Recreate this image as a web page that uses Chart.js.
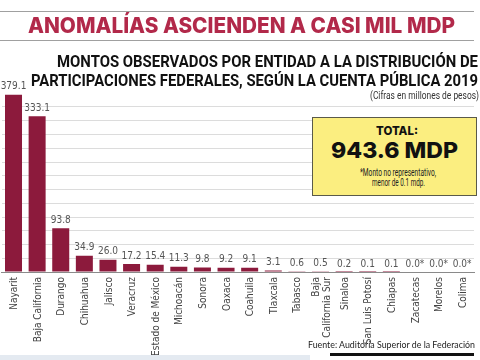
<!DOCTYPE html>
<html>
<head>
<meta charset="utf-8">
<script src="https://cdn.jsdelivr.net/npm/chart.js@4.4.1/dist/chart.umd.min.js"></script>
<style>
  html,body{margin:0;padding:0;background:#fff;}
  #wrap{position:relative;width:480px;height:360px;overflow:hidden;background:#fff;}
  #c{position:absolute;left:0;top:0;width:480px;height:360px;}
  .t{position:absolute;white-space:nowrap;line-height:1;transform-origin:0 50%;}
  .hl{position:absolute;height:1px;background:#a0a0a0;}
  #title{font-family:Inter,"Noto Sans",sans-serif;font-weight:800;font-size:21px;color:#b2294a;}
  .sub{font-family:Roboto,"Noto Sans",sans-serif;font-weight:700;font-size:17px;color:#111;}
  #unit{font-family:"Liberation Sans Narrow",Roboto,sans-serif;font-size:10px;color:#333;}
  #box{position:absolute;left:312px;top:117px;width:163px;height:77px;background:#fbee80;border:1px solid #5a5a4a;}
  #tot{font-family:Inter,"Noto Sans",sans-serif;font-weight:800;font-size:12px;color:#111;}
  #big{font-family:Inter,"Noto Sans",sans-serif;font-weight:800;font-size:22px;color:#111;}
  .note{font-family:"Liberation Sans Narrow",Roboto,sans-serif;font-size:10px;color:#222;}
  #src{font-family:Lato,Roboto,sans-serif;font-size:10px;color:#222;}
</style>
</head>
<body>
<div id="wrap">
  <canvas id="c" width="480" height="360"></canvas>
  <div class="hl" style="left:0;top:11px;width:474px;"></div>
  <div class="hl" style="left:0;top:40px;width:474px;"></div>
  <div class="t" id="title" data-l="28" data-w="427" data-cy="25.5">ANOMALÍAS ASCIENDEN A CASI MIL MDP</div>
  <div class="t sub" data-r="478" data-w="421" data-cy="61">MONTOS OBSERVADOS POR ENTIDAD A LA DISTRIBUCIÓN DE</div>
  <div class="t sub" data-r="478" data-w="447" data-cy="80.5">PARTICIPACIONES FEDERALES, SEGÚN LA CUENTA PÚBLICA 2019</div>
  <div class="t" id="unit" data-r="479" data-w="109" data-cy="96">(Cifras en millones de pesos)</div>
  <div id="box"></div>
  <div class="t" id="tot" data-c="397" data-w="42" data-cy="130.5">TOTAL:</div>
  <div class="t" id="big" data-c="394" data-w="127" data-cy="149.5">943.6 MDP</div>
  <div class="t note" data-c="398" data-w="76" data-cy="173">*Monto no representativo,</div>
  <div class="t note" data-c="398" data-w="53" data-cy="183">menor de 0.1 mdp.</div>
  <div class="t" id="src" data-r="475" data-w="167" data-cy="344">Fuente: Auditoría Superior de la Federación</div>
  <div style="position:absolute;left:0;top:355px;width:310px;height:5px;background:#e4eaf1;"></div>
  <div style="position:absolute;left:330px;top:353px;width:144px;height:3px;background:#111;"></div>
</div>
<script>
const categories = ['Nayarit','Baja California','Durango','Chihuahua','Jalisco','Veracruz','Estado de México','Michoacán','Sonora','Oaxaca','Coahuila','Tlaxcala','Tabasco',['Baja','California Sur'],'Sinaloa','San Luis Potosí','Chiapas','Zacatecas','Morelos','Colima'];
const values = [379.1,333.1,93.8,34.9,26.0,17.2,15.4,11.3,9.8,9.2,9.1,3.1,0.6,0.5,0.2,0.1,0.1,0.0,0.0,0.0];
const valueLabels = ['379.1','333.1','93.8','34.9','26.0','17.2','15.4','11.3','9.8','9.2','9.1','3.1','0.6','0.5','0.2','0.1','0.1','0.0*','0.0*','0.0*'];
const gridStep = 29.4;
const gridLines = 12;
const yMax = 382.2;

// fit html texts
document.querySelectorAll('.t').forEach(el=>{
  const r = el.getBoundingClientRect();
  const tw = parseFloat(el.dataset.w);
  const s = tw / r.width;
  let left;
  if (el.dataset.l) left = parseFloat(el.dataset.l);
  else if (el.dataset.r) left = parseFloat(el.dataset.r) - tw;
  else left = parseFloat(el.dataset.c) - tw/2;
  el.style.left = left + 'px';
  el.style.top = (parseFloat(el.dataset.cy) - r.height/2) + 'px';
  el.style.transform = 'scaleX(' + s + ')';
});

const NARROW = '"Liberation Sans Narrow", "DejaVu Sans Condensed", sans-serif';

const valuePlugin = {
  id:'valueLabels',
  afterDatasetsDraw(chart){
    const ctx = chart.ctx;
    const meta = chart.getDatasetMeta(0);
    ctx.save();
    ctx.font = '10px ' + NARROW;
    ctx.fillStyle = '#555';
    ctx.textAlign = 'center';
    ctx.textBaseline = 'bottom';
    meta.data.forEach((bar,i)=>{
      ctx.fillText(valueLabels[i], bar.x, bar.y - 3);
    });
    ctx.restore();
  }
};

const xLabelPlugin = {
  id:'xLabels',
  afterDraw(chart){
    const ctx = chart.ctx;
    const xs = chart.scales.x;
    const top = xs.top + 5;
    ctx.save();
    ctx.font = '10px ' + NARROW;
    ctx.fillStyle = '#444';
    ctx.textAlign = 'right';
    ctx.textBaseline = 'middle';
    categories.forEach((lab,i)=>{
      const x = xs.getPixelForTick(i);
      const lines = Array.isArray(lab) ? lab : [lab];
      const lh = 11;
      lines.forEach((ln,j)=>{
        const off = (j - (lines.length-1)/2) * lh + 1;
        ctx.save();
        ctx.translate(x + off, top);
        ctx.rotate(-Math.PI/2);
        ctx.fillText(ln, 0, 0);
        ctx.restore();
      });
    });
    ctx.restore();
  }
};

new Chart(document.getElementById('c'), {
  type:'bar',
  data:{
    labels: categories,
    datasets:[{
      data: values,
      backgroundColor:'#8c1a3c',
      borderWidth:0,
      barPercentage:0.72,
      categoryPercentage:1
    }]
  },
  options:{
    responsive:false,
    animation:false,
    devicePixelRatio:1,
    layout:{padding:{left:1.7,right:6,top:93.25,bottom:0}},
    plugins:{legend:{display:false},tooltip:{enabled:false},title:{display:false}},
    scales:{
      x:{
        grid:{display:false,drawTicks:false},
        border:{display:true,color:'#8a8a8a',width:1},
        ticks:{display:false,autoSkip:false},
        afterFit(scale){ scale.height = 88; }
      },
      y:{
        min:0,max:yMax,
        ticks:{display:false,stepSize:gridStep},
        border:{display:false},
        grid:{
          drawTicks:false,
          color(ctx){
            const v = ctx.tick ? ctx.tick.value : 0;
            if (v <= 0.001 || v > gridStep*gridLines + 0.01) return 'rgba(0,0,0,0)';
            return '#dcdcdc';
          }
        },
        afterFit(scale){ scale.width = 0; }
      }
    }
  },
  plugins:[valuePlugin, xLabelPlugin]
});
</script>
</body>
</html>
